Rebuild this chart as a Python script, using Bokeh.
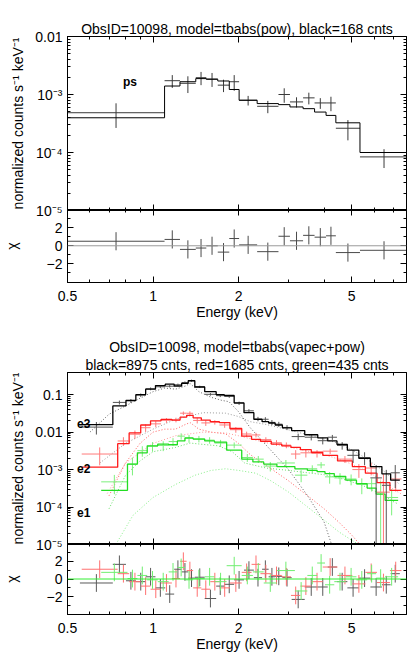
import math
from bokeh.plotting import figure
from bokeh.models import ColumnDataSource, FixedTicker, LogAxis, LinearAxis, Title, Span, Range1d
from bokeh.layouts import column
from bokeh.embed import file_html
from bokeh.resources import INLINE
from bokeh.core.properties import value

FONT = "Liberation Sans"

# ---------------- top spectrum: tbabs(pow), 168 counts ----------------
top_edges = [0.5, 1.098, 1.244, 1.414, 1.54, 1.69, 1.855, 2.009, 2.325, 2.764,
             3.033, 3.374, 3.703, 4.064, 4.40, 5.35, 7.9]
top_data = [4.85e-4, 1.73e-3, 1.56e-3, 1.95e-3, 1.85e-3, 1.45e-3, 1.66e-3, 7.96e-4,
            6.26e-4, 1.0e-3, 7.45e-4, 8.75e-4, 7.15e-4, 7.15e-4, 2.62e-4, 8.4e-5]
top_err = [2.2e-4, 4.3e-4, 5e-4, 5e-4, 5e-4, 3.5e-4, 5e-4, 1.5e-4,
           1.5e-4, 2.8e-4, 1.5e-4, 2e-4, 1.5e-4, 2e-4, 1e-4, 3e-5]
top_model = [3.97e-4, 1.40e-3, 1.66e-3, 1.88e-3, 1.83e-3, 1.71e-3, 1.22e-3, 7.96e-4,
             6.97e-4, 6.69e-4, 6.1e-4, 5.7e-4, 4.98e-4, 4.36e-4, 3.25e-4, 1.0e-4]
top_chi = [0.5, 0.7, -0.4, -0.25, 0.0, -0.7, 0.8, 0.1, -0.65, 1.05, 0.55, 1.15,
           0.95, 1.1, -0.75, -0.5]

# ---------------- bottom spectrum: tbabs(vapec+pow) ----------------
e3_edges = [0.553, 0.722, 0.803, 0.870, 0.942, 1.02, 1.104, 1.187, 1.261, 1.33, 1.403,
            1.52, 1.668, 1.782, 1.93, 2.09, 2.264, 2.42, 2.552, 2.691, 2.853, 3.075,
            3.419, 3.80, 4.12, 4.44, 4.83, 5.30, 5.82, 6.39, 6.86, 7.39]
e3_model = [0.0158, 0.05, 0.07, 0.1, 0.14, 0.175, 0.19, 0.17, 0.2, 0.235, 0.16, 0.12,
            0.1, 0.095, 0.06, 0.033, 0.022, 0.019, 0.0175, 0.0155, 0.013, 0.011, 0.0085,
            0.007, 0.0058, 0.0047, 0.0033, 0.002, 0.0012, 7.7e-4, 5.2e-4]
e3_data = [0.0136, 0.062, 0.068, 0.097, 0.143, 0.162, 0.168, 0.184, 0.211, 0.236, 0.162,
           0.102, 0.094, 0.090, 0.059, 0.037, 0.0225, 0.022, 0.0182, 0.0163, 0.0133,
           0.0076, 0.0073, 0.0059, 0.0073, 0.0044, 0.0024, 0.0021, 6e-4, 3.8e-4, 8.2e-4]
e3_err = [0.005, 0.0075, 0.008, 0.01, 0.012, 0.013, 0.013, 0.013, 0.014, 0.015, 0.011,
          0.008, 0.008, 0.008, 0.006, 0.004, 0.003, 0.003, 0.0028, 0.0025, 0.002, 0.0015,
          0.0013, 0.0012, 0.0011, 0.001, 0.0009, 0.0008, 0.0007, 0.0006, 0.0005]
e3_chi = [-0.45, 1.65, -0.2, -0.3, 0.25, -1.0, -1.7, 1.1, 0.8, 0.1, 0.2, -2.2, -0.8,
          -0.6, -0.1, 1.0, 0.15, 1.1, 0.25, 0.3, 0.15, -2.3, -0.9, -0.9, 1.35, -0.3,
          -1.0, 0.1, -0.9, -0.65, 0.6]

e2_edges = [0.561, 0.751, 0.824, 0.905, 0.98, 1.067, 1.165, 1.245, 1.313, 1.384, 1.479,
            1.59, 1.712, 1.865, 2.052, 2.222, 2.388, 2.607, 2.838, 3.058, 3.302, 3.606,
            3.957, 4.46, 5.03, 5.59, 6.14, 6.82, 7.49]
e2_model = [1.16e-3, 0.0049, 0.0095, 0.0155, 0.02, 0.022, 0.021, 0.025, 0.028, 0.024,
            0.021, 0.019, 0.018, 0.0125, 0.0078, 0.0064, 0.0057, 0.0048, 0.0043, 0.0039,
            0.0034, 0.0029, 0.0024, 0.0017, 0.0012, 8e-4, 4.5e-4, 2.8e-4]
e2_data = [2.6e-3, 0.0058, 0.0088, 0.0131, 0.0166, 0.0206, 0.0212, 0.032, 0.0318, 0.0205,
           0.0176, 0.0183, 0.0155, 0.0116, 0.0089, 0.0084, 0.0063, 0.0052, 0.0045, 0.0026,
           0.0028, 0.0027, 0.0031, 0.0019, 0.001, 0.0011, 2.5e-4, 5.6e-4]
e2_err = [1.3e-3, 0.0015, 0.0022, 0.003, 0.003, 0.003, 0.003, 0.0035, 0.004, 0.0035,
          0.003, 0.0025, 0.0025, 0.002, 0.0014, 0.0012, 0.001, 0.0009, 0.0008, 0.0007,
          0.0007, 0.0006, 0.0005, 0.0004, 0.0004, 0.0004, 0.0005, 0.0003]
e2_chi = [1.1, 0.6, -0.3, -0.8, -1.15, -0.45, 0.05, 2.0, 0.95, -1.0, -1.15, -0.3, -1.0,
          -0.45, 0.75, 1.65, 0.6, 0.4, 0.25, -1.85, -0.8, -0.3, 1.35, 0.4, -0.55, 0.75,
          -0.4, 0.95]

e1_edges = [0.657, 0.813, 0.881, 0.954, 1.039, 1.135, 1.218, 1.295, 1.384, 1.52, 1.646,
            1.816, 2.052, 2.246, 2.452, 2.728, 3.157, 3.493, 3.782, 4.03, 4.344, 4.767,
            5.20, 5.67, 6.10, 6.56, 7.29]
e1_model = [2.8e-4, 1.4e-3, 2.8e-3, 4.3e-3, 4.8e-3, 4.6e-3, 5.8e-3, 7.0e-3, 6.5e-3,
            5.8e-3, 5.4e-3, 3.3e-3, 1.9e-3, 1.6e-3, 1.4e-3, 1.2e-3, 1.05e-3, 9.5e-4,
            8.8e-4, 7.8e-4, 6.6e-4, 5.2e-4, 4.2e-4, 3.2e-4, 2.2e-4, 1.5e-4]
e1_data = [4.7e-4, 1.4e-3, 3.2e-3, 4.2e-3, 4.4e-3, 5.6e-3, 7.8e-3, 6.8e-3, 6.6e-3,
           6.1e-3, 5.1e-3, 4.5e-3, 2.1e-3, 1.9e-3, 1.24e-3, 1.5e-3, 7.1e-4, 1.05e-3,
           1.33e-3, 6.4e-4, 6.0e-4, 5.6e-4, 4.0e-4, 4.2e-4, 2.4e-4, 1.8e-4]
e1_err = [2.5e-4, 7e-4, 1e-3, 1.2e-3, 1.3e-3, 1.3e-3, 1.5e-3, 1.6e-3, 1.3e-3, 1.2e-3,
          1.1e-3, 8e-4, 5e-4, 4e-4, 3.5e-4, 3e-4, 2.5e-4, 2.5e-4, 2.5e-4, 2.2e-4, 2e-4,
          1.8e-4, 1.8e-4, 1.6e-4, 2.5e-4, 1.2e-4]
e1_chi = [0.75, 0.05, 0.4, -0.1, -0.3, 0.8, 1.3, -0.1, 0.05, 0.25, -0.3, 1.5, 0.4, 0.8,
          -0.45, 0.95, -1.35, 0.4, 1.8, -0.65, -0.3, 0.25, -0.1, 0.6, 0.1, 0.25]

# model components (dotted)
e3_c1_E = [0.6, 0.7, 0.8, 0.9, 1.0, 1.1, 1.2, 1.3, 1.35, 1.45, 1.6, 1.75, 1.85, 2.0,
           2.2, 2.5, 3.0, 3.5, 4.0, 4.25]
e3_c1 = [0.01, 0.03, 0.05, 0.08, 0.12, 0.15, 0.14, 0.17, 0.2, 0.12, 0.085, 0.07, 0.065,
         0.035, 0.013, 0.0045, 1e-3, 2e-4, 4e-5, 1e-5]
e3_c2_E = [0.65, 0.8, 1.0, 1.2, 1.5, 1.8, 2.0, 2.2, 2.5, 3.0, 3.5, 4.0, 4.5, 5.0, 5.5,
           6.0, 6.5, 7.0, 7.4]
e3_c2 = [1.5e-3, 5e-3, 0.012, 0.022, 0.033, 0.032, 0.026, 0.019, 0.016, 0.0115, 0.0085,
         0.0065, 0.005, 0.0034, 0.0022, 0.0014, 9e-4, 5.5e-4, 4e-4]
e2_c1_E = [0.7, 0.8, 0.9, 1.0, 1.1, 1.2, 1.3, 1.35, 1.45, 1.6, 1.8, 2.0, 2.2, 2.5, 3.0,
           3.5, 4.0, 4.5, 5.0, 5.35]
e2_c1 = [2e-4, 1.5e-3, 5e-3, 0.01, 0.012, 0.012, 0.016, 0.018, 0.012, 0.01, 0.009, 0.005,
         0.0025, 1.3e-3, 5e-4, 2e-4, 9e-5, 4e-5, 1.8e-5, 1e-5]
e2_c2_E = [0.69, 0.8, 1.0, 1.2, 1.5, 1.8, 2.0, 2.5, 3.0, 3.5, 4.0, 4.5, 5.0, 5.5, 6.0,
           6.5, 7.0, 7.5]
e2_c2 = [2.3e-4, 1.5e-3, 5e-3, 8e-3, 0.01, 0.0095, 0.008, 0.0052, 0.004, 0.0031, 0.0025,
         0.0019, 0.0014, 0.001, 7e-4, 4.5e-4, 3e-4, 2.2e-4]
e1_c1_E = [0.7, 0.8, 0.9, 1.0, 1.2, 1.35, 1.5, 1.7, 1.9, 2.1, 2.5, 3.0, 3.5, 4.0, 4.5,
           5.0, 5.5, 6.0, 6.5, 7.0, 7.3]
e1_c1 = [9e-5, 7e-4, 1.7e-3, 3e-3, 3.9e-3, 5.1e-3, 4.7e-3, 4.3e-3, 3e-3, 1.5e-3, 1.1e-3,
         9.5e-4, 8.2e-4, 7.3e-4, 6e-4, 4.7e-4, 3.7e-4, 2.7e-4, 2e-4, 1.4e-4, 1.2e-4]
e1_c2_E = [0.75, 0.85, 1.0, 1.2, 1.4, 1.6, 1.8, 2.0, 2.3, 2.6, 3.0, 3.5, 4.0, 4.5, 5.0, 5.3]
e1_c2 = [1.2e-5, 6e-5, 1.8e-4, 4e-4, 7e-4, 9.5e-4, 1.05e-3, 9.5e-4, 8e-4, 5e-4, 2.5e-4,
         1e-4, 4.5e-5, 2.2e-5, 1.3e-5, 1e-5]

x_major = [0.5, 1, 2, 5]
x_minor = [0.6, 0.7, 0.8, 0.9, 3, 4, 6, 7]
x_labels = {0.5: "0.5", 1: "1", 2: "2", 5: "5"}

title_top = "ObsID=10098, model=tbabs(pow), black=168 cnts"
title_bot1 = "ObsID=10098, model=tbabs(vapec+pow)"
title_bot2 = "black=8975 cnts, red=1685 cnts, green=435 cnts"
ylab = "normalized counts s\u207b\u00b9 keV\u207b\u00b9"

W = 409
XR = (0.5, 7.8)


def style_axis(ax, show_labels, size="14px"):
    ax.major_tick_in = 6
    ax.major_tick_out = 0
    ax.minor_tick_in = 3
    ax.minor_tick_out = 0
    ax.axis_line_color = "black"
    ax.major_tick_line_color = "black"
    ax.minor_tick_line_color = "black"
    ax.major_label_text_font = FONT
    ax.axis_label_text_font = FONT
    ax.axis_label_text_font_style = "normal"
    ax.axis_label_text_font_size = "14px"
    ax.axis_label_text_color = "black"
    ax.major_label_text_color = "black"
    if show_labels:
        ax.major_label_text_font_size = size
    else:
        ax.major_label_text_font_size = "1px"
        ax.major_label_text_alpha = 0
        ax.major_label_standoff = 0


def add_mirrors(p, xt, yt, ylog):
    top = LogAxis(ticker=xt)
    style_axis(top, False)
    p.add_layout(top, "above")
    right = LogAxis(ticker=yt) if ylog else LinearAxis(ticker=yt)
    style_axis(right, False)
    p.add_layout(right, "right")


def base_fig(height, yr, ylog, top, bottom, margin=None):
    kw = dict(width=W, height=height, x_axis_type="log",
              y_axis_type="log" if ylog else "linear",
              x_range=Range1d(*XR), y_range=Range1d(*yr),
              output_backend="svg", toolbar_location=None,
              min_border_left=62, min_border_right=3,
              min_border_top=top, min_border_bottom=bottom)
    if margin is not None:
        kw["margin"] = margin
    p = figure(**kw)
    p.xgrid.visible = False
    p.ygrid.visible = False
    p.outline_line_color = "black"
    p.border_fill_alpha = 0
    p.background_fill_alpha = 0
    return p


def log_ticker(lo_exp, hi_exp):
    return FixedTicker(ticks=[10.0 ** k for k in range(lo_exp, hi_exp + 1)],
                       minor_ticks=[m * 10.0 ** k for k in range(lo_exp, hi_exp) for m in range(2, 10)])


def centers(edges):
    return [math.sqrt(a * b) for a, b in zip(edges[:-1], edges[1:])]


def draw_spectrum(p, edges, data, err, model, dcol, mcol, lw=1.0):
    c = centers(edges)
    src = ColumnDataSource(dict(lo=edges[:-1], hi=edges[1:], c=c, y=data,
                                y0=[max(d - e, 1e-8) for d, e in zip(data, err)],
                                y1=[d + e for d, e in zip(data, err)]))
    p.segment(x0="lo", y0="y", x1="hi", y1="y", source=src, line_color=dcol, line_width=1)
    p.segment(x0="c", y0="y0", x1="c", y1="y1", source=src, line_color=dcol, line_width=1)
    p.step(x=edges, y=model + [model[-1]], mode="after", line_color=mcol, line_width=lw)


def draw_resid(p, edges, chi, col):
    c = centers(edges)
    src = ColumnDataSource(dict(lo=edges[:-1], hi=edges[1:], c=c, y=chi,
                                y0=[v - 1 for v in chi], y1=[v + 1 for v in chi]))
    p.segment(x0="lo", y0="y", x1="hi", y1="y", source=src, line_color=col, line_width=1)
    p.segment(x0="c", y0="y0", x1="c", y1="y1", source=src, line_color=col, line_width=1)


xt = FixedTicker(ticks=x_major, minor_ticks=x_minor)
rt = FixedTicker(ticks=[-2, 0, 2], minor_ticks=[-3, -1, 1, 3])


def setup_spec_axes(p, yt, overrides):
    p.xaxis.ticker = xt
    style_axis(p.xaxis[0], False)
    p.yaxis.ticker = yt
    style_axis(p.yaxis[0], True)
    p.yaxis.major_label_overrides = overrides
    p.yaxis.axis_label = ylab
    p.yaxis.axis_label_standoff = 6
    p.yaxis.major_label_standoff = 5
    add_mirrors(p, xt, yt, True)


def setup_resid_axes(p):
    p.xaxis.ticker = xt
    style_axis(p.xaxis[0], True)
    p.xaxis.major_label_overrides = x_labels
    p.xaxis.axis_label = "Energy (keV)"
    p.xaxis.major_label_standoff = 8
    p.xaxis.axis_label_standoff = 0
    p.yaxis.ticker = rt
    style_axis(p.yaxis[0], True)
    p.yaxis.major_label_overrides = {-2: "\u22122", 0: "0", 2: "2"}
    p.yaxis.axis_label = "\u03c7"
    p.yaxis.axis_label_standoff = 24
    p.yaxis.major_label_standoff = 5
    add_mirrors(p, xt, rt, False)


def style_title(t, text):
    t.text = text
    t.align = "center"
    t.text_font_size = "14px"
    t.text_font_style = "normal"
    t.text_font = FONT
    t.text_color = "black"
    t.standoff = 0


# ---------- figure 1: top spectrum ----------
p1 = base_fig(220, (1e-5, 1e-2), True, 36, 10)
setup_spec_axes(p1, log_ticker(-5, -2),
                {1e-2: "0.01", 1e-3: "10\u207b\u00b3", 1e-4: "10\u207b\u2074", 1e-5: "10\u207b\u2075"})
style_title(p1.title, title_top)
draw_spectrum(p1, top_edges, top_data, top_err, top_model, "#3a3a3a", "black")
p1.text(x=[0.83], y=[1.66e-3], text=["ps"], text_font=value(FONT), text_font_size="12px",
        text_font_style="bold", text_align="center", text_baseline="middle", text_color="black")

# ---------- figure 2: top residuals ----------
p2 = base_fig(113, (-4.05, 4.0), False, 0, 35, margin=(-11, 0, 0, 0))
setup_resid_axes(p2)
p2.add_layout(Span(location=0, dimension="width", line_color="#9a9a9a", line_width=1))
draw_resid(p2, top_edges, top_chi, "#4a4a4a")

# ---------- figure 3: bottom spectrum ----------
p3 = base_fig(232, (1e-5, 0.39), True, 50, 10)
setup_spec_axes(p3, log_ticker(-5, -1),
                {1e-1: "0.1", 1e-2: "0.01", 1e-3: "10\u207b\u00b3", 1e-4: "10\u207b\u2074",
                 1e-5: "10\u207b\u2075"})
style_title(p3.title, title_bot1)
t_line2 = Title()
style_title(t_line2, title_bot2)
p3.add_layout(t_line2, "above")
for E, v, col in [(e3_c1_E, e3_c1, "#606060"), (e3_c2_E, e3_c2, "#9a9a9a"),
                  (e2_c1_E, e2_c1, "#ff6060"), (e2_c2_E, e2_c2, "#ff9a9a"),
                  (e1_c1_E, e1_c1, "#66dd66"), (e1_c2_E, e1_c2, "#88ee88")]:
    p3.line(E, v, line_color=col, line_dash="1 2", line_width=1)
draw_spectrum(p3, e1_edges, e1_data, e1_err, e1_model, "#7cf07c", "#22dd22", 1.3)
draw_spectrum(p3, e2_edges, e2_data, e2_err, e2_model, "#ff7a7a", "#ff1a1a", 1.3)
draw_spectrum(p3, e3_edges, e3_data, e3_err, e3_model, "#555555", "black", 1.3)
p3.text(x=[0.57, 0.57, 0.57], y=[0.017, 1.05e-3, 7.1e-5], text=["e3", "e2", "e1"],
        text_font=value(FONT), text_font_size="12px", text_font_style="bold",
        text_align="center", text_baseline="middle", text_color="black")

# ---------- figure 4: bottom residuals ----------
p4 = base_fig(111, (-4.0, 4.0), False, 0, 34, margin=(-11, 0, 0, 0))
setup_resid_axes(p4)
draw_resid(p4, e3_edges, e3_chi, "#5a5a5a")
draw_resid(p4, e2_edges, e2_chi, "#ff7070")
draw_resid(p4, e1_edges, e1_chi, "#70ee70")
p4.add_layout(Span(location=0, dimension="width", line_color="#33ee33", line_width=1))

layout = column(p1, p2, p3, p4)
open("out.html", "w").write(file_html(layout, INLINE))
